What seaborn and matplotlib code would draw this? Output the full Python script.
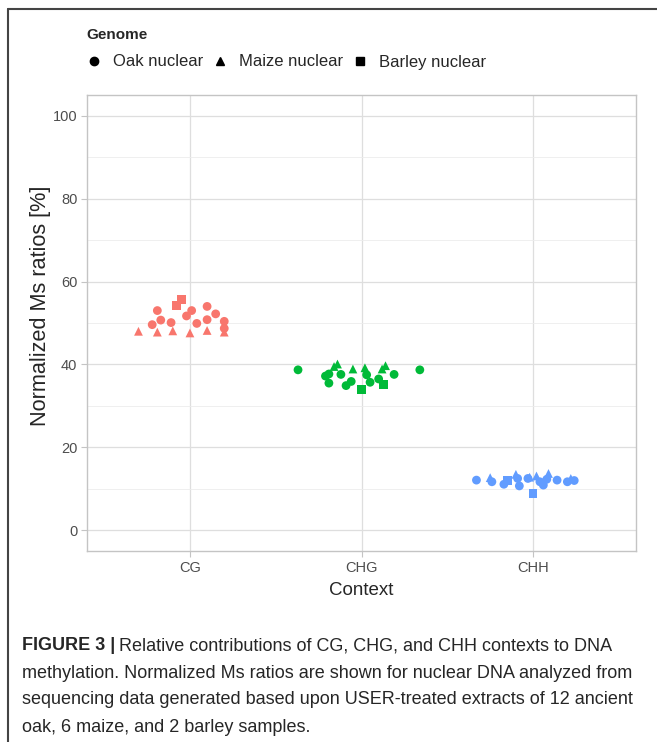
import pandas as pd
import matplotlib.pyplot as plt
import seaborn as sns
from matplotlib.lines import Line2D

# contexts and genomes
contexts = ['CG', 'CHG', 'CHH']
genomes = ['Oak nuclear', 'Maize nuclear', 'Barley nuclear']
colors = ['#F8766D', '#00BA38', '#619CFF']

# normalized Ms ratios [%]
cg_oak = [53.0, 49.6, 50.7, 50.1, 51.7, 53.0, 49.9, 54.0, 50.8, 52.2, 50.4, 48.7]
cg_maize = [48.0, 47.8, 48.1, 47.6, 48.2, 47.8]
cg_barley = [54.2, 55.6]
chg_oak = [38.7, 37.2, 37.7, 35.5, 37.6, 34.9, 35.9, 37.5, 35.7, 36.5, 37.6, 38.7]
chg_maize = [39.5, 40.1, 38.9, 39.2, 38.9, 39.7]
chg_barley = [34.0, 35.2]
chh_oak = [12.1, 11.7, 11.1, 12.5, 10.7, 12.5, 11.7, 10.9, 12.3, 12.1, 11.7, 12.0]
chh_maize = [12.7, 13.5, 12.8, 13.1, 13.7, 12.5]
chh_barley = [12.1, 8.9]

# horizontal jitter of each point (category units)
cg_oak_jit = [-0.19, -0.22, -0.17, -0.11, -0.02, 0.01, 0.04, 0.10, 0.10, 0.15, 0.20, 0.20]
cg_maize_jit = [-0.30, -0.19, -0.10, 0.00, 0.10, 0.20]
cg_barley_jit = [-0.08, -0.05]
chg_oak_jit = [-0.37, -0.21, -0.19, -0.19, -0.12, -0.09, -0.06, 0.03, 0.05, 0.10, 0.19, 0.34]
chg_maize_jit = [-0.16, -0.14, -0.05, 0.02, 0.12, 0.14]
chg_barley_jit = [0.00, 0.13]
chh_oak_jit = [-0.33, -0.24, -0.17, -0.09, -0.08, -0.03, 0.04, 0.06, 0.08, 0.14, 0.20, 0.24]
chh_maize_jit = [-0.25, -0.10, -0.02, 0.02, 0.09, 0.22]
chh_barley_jit = [-0.15, 0.00]

groups = [
    ('CG', 'Oak nuclear', cg_oak, cg_oak_jit),
    ('CG', 'Maize nuclear', cg_maize, cg_maize_jit),
    ('CG', 'Barley nuclear', cg_barley, cg_barley_jit),
    ('CHG', 'Oak nuclear', chg_oak, chg_oak_jit),
    ('CHG', 'Maize nuclear', chg_maize, chg_maize_jit),
    ('CHG', 'Barley nuclear', chg_barley, chg_barley_jit),
    ('CHH', 'Oak nuclear', chh_oak, chh_oak_jit),
    ('CHH', 'Maize nuclear', chh_maize, chh_maize_jit),
    ('CHH', 'Barley nuclear', chh_barley, chh_barley_jit),
]
rows = []
for ctx, gen, vals, jit in groups:
    for v, j in zip(vals, jit):
        rows.append({'context': ctx, 'genome': gen, 'ratio': v, 'jitter': j})
df = pd.DataFrame(rows)
df['xpos'] = df['context'].map({c: i + 1 for i, c in enumerate(contexts)}) + df['jitter']

sns.set_theme(style='white')
plt.rcParams['font.family'] = ['Liberation Sans', 'DejaVu Sans']

fig = plt.figure(figsize=(6.57, 7.42), dpi=100)
ax = fig.add_axes([87 / 657, 1 - 551 / 742, (636 - 87) / 657, (551 - 95) / 742])

markers = {'Oak nuclear': 'o', 'Maize nuclear': '^', 'Barley nuclear': 's'}
sns.scatterplot(data=df, x='xpos', y='ratio', hue='context', style='genome',
                markers=markers, palette=dict(zip(contexts, colors)),
                hue_order=contexts, style_order=genomes,
                s=40, linewidth=0, legend=False, ax=ax, zorder=3)

ax.set_xlim(0.4, 3.6)
ax.set_ylim(-5, 105)
ax.set_xticks([1, 2, 3])
ax.set_xticklabels(contexts)
ax.set_yticks([0, 20, 40, 60, 80, 100])
ax.set_yticks([10, 30, 50, 70, 90], minor=True)
ax.grid(True, which='major', color='#dedede', linewidth=0.9)
ax.grid(True, which='minor', axis='y', color='#ececec', linewidth=0.6)
ax.set_axisbelow(True)
for sp in ax.spines.values():
    sp.set_color('#c4c4c4')
    sp.set_linewidth(1.0)
ax.tick_params(axis='both', which='major', length=4, width=0.8, color='#c4c4c4',
               labelsize=10.5, labelcolor='#4d4d4d', left=True, bottom=True, pad=3)
ax.tick_params(axis='both', which='minor', length=0)
ax.set_xlabel('Context', fontsize=13.5, labelpad=5)
ax.set_ylabel('Normalized Ms ratios [%]', fontsize=15.6)
ax.yaxis.set_label_coords(-0.066, 0.537)

# legend on top
handles = [Line2D([], [], marker=markers[g], color='black', linestyle='', markersize=6)
           for g in genomes]
leg = fig.legend(handles, genomes, loc='upper left', bbox_to_anchor=(86 / 657, 1 - 28 / 742),
                 ncol=3, frameon=False, title='Genome', alignment='left',
                 title_fontproperties={'weight': 'bold', 'size': 11},
                 fontsize=12, borderpad=0, borderaxespad=0, handlelength=1.0,
                 handletextpad=0.6, columnspacing=0.55, labelspacing=0.75)

# figure frame (left and top edges)
fig.add_artist(Line2D([7.5 / 657, 7.5 / 657], [0, 1 - 8.5 / 742], color='#444444', lw=1.5))
fig.add_artist(Line2D([7.5 / 657, 1], [1 - 8.5 / 742, 1 - 8.5 / 742], color='#444444', lw=1.5))

# caption
cap_size = 13
cap_x = 22 / 657
y0 = 1 - 646 / 742
dy = 27 / 742
bold = fig.text(cap_x, y0, 'FIGURE 3 |', fontsize=cap_size, fontweight='bold', va='center')
fig.canvas.draw()
bb = bold.get_window_extent(fig.canvas.get_renderer())
fig.text(bb.x1 / fig.bbox.width + 4 / 657, y0,
         'Relative contributions of CG, CHG, and CHH contexts to DNA',
         fontsize=cap_size, va='center')
lines = ['methylation. Normalized Ms ratios are shown for nuclear DNA analyzed from',
         'sequencing data generated based upon USER-treated extracts of 12 ancient',
         'oak, 6 maize, and 2 barley samples.']
for i, line in enumerate(lines):
    fig.text(cap_x, y0 - (i + 1) * dy, line, fontsize=cap_size, va='center')

fig.savefig('out.png', dpi=100)
